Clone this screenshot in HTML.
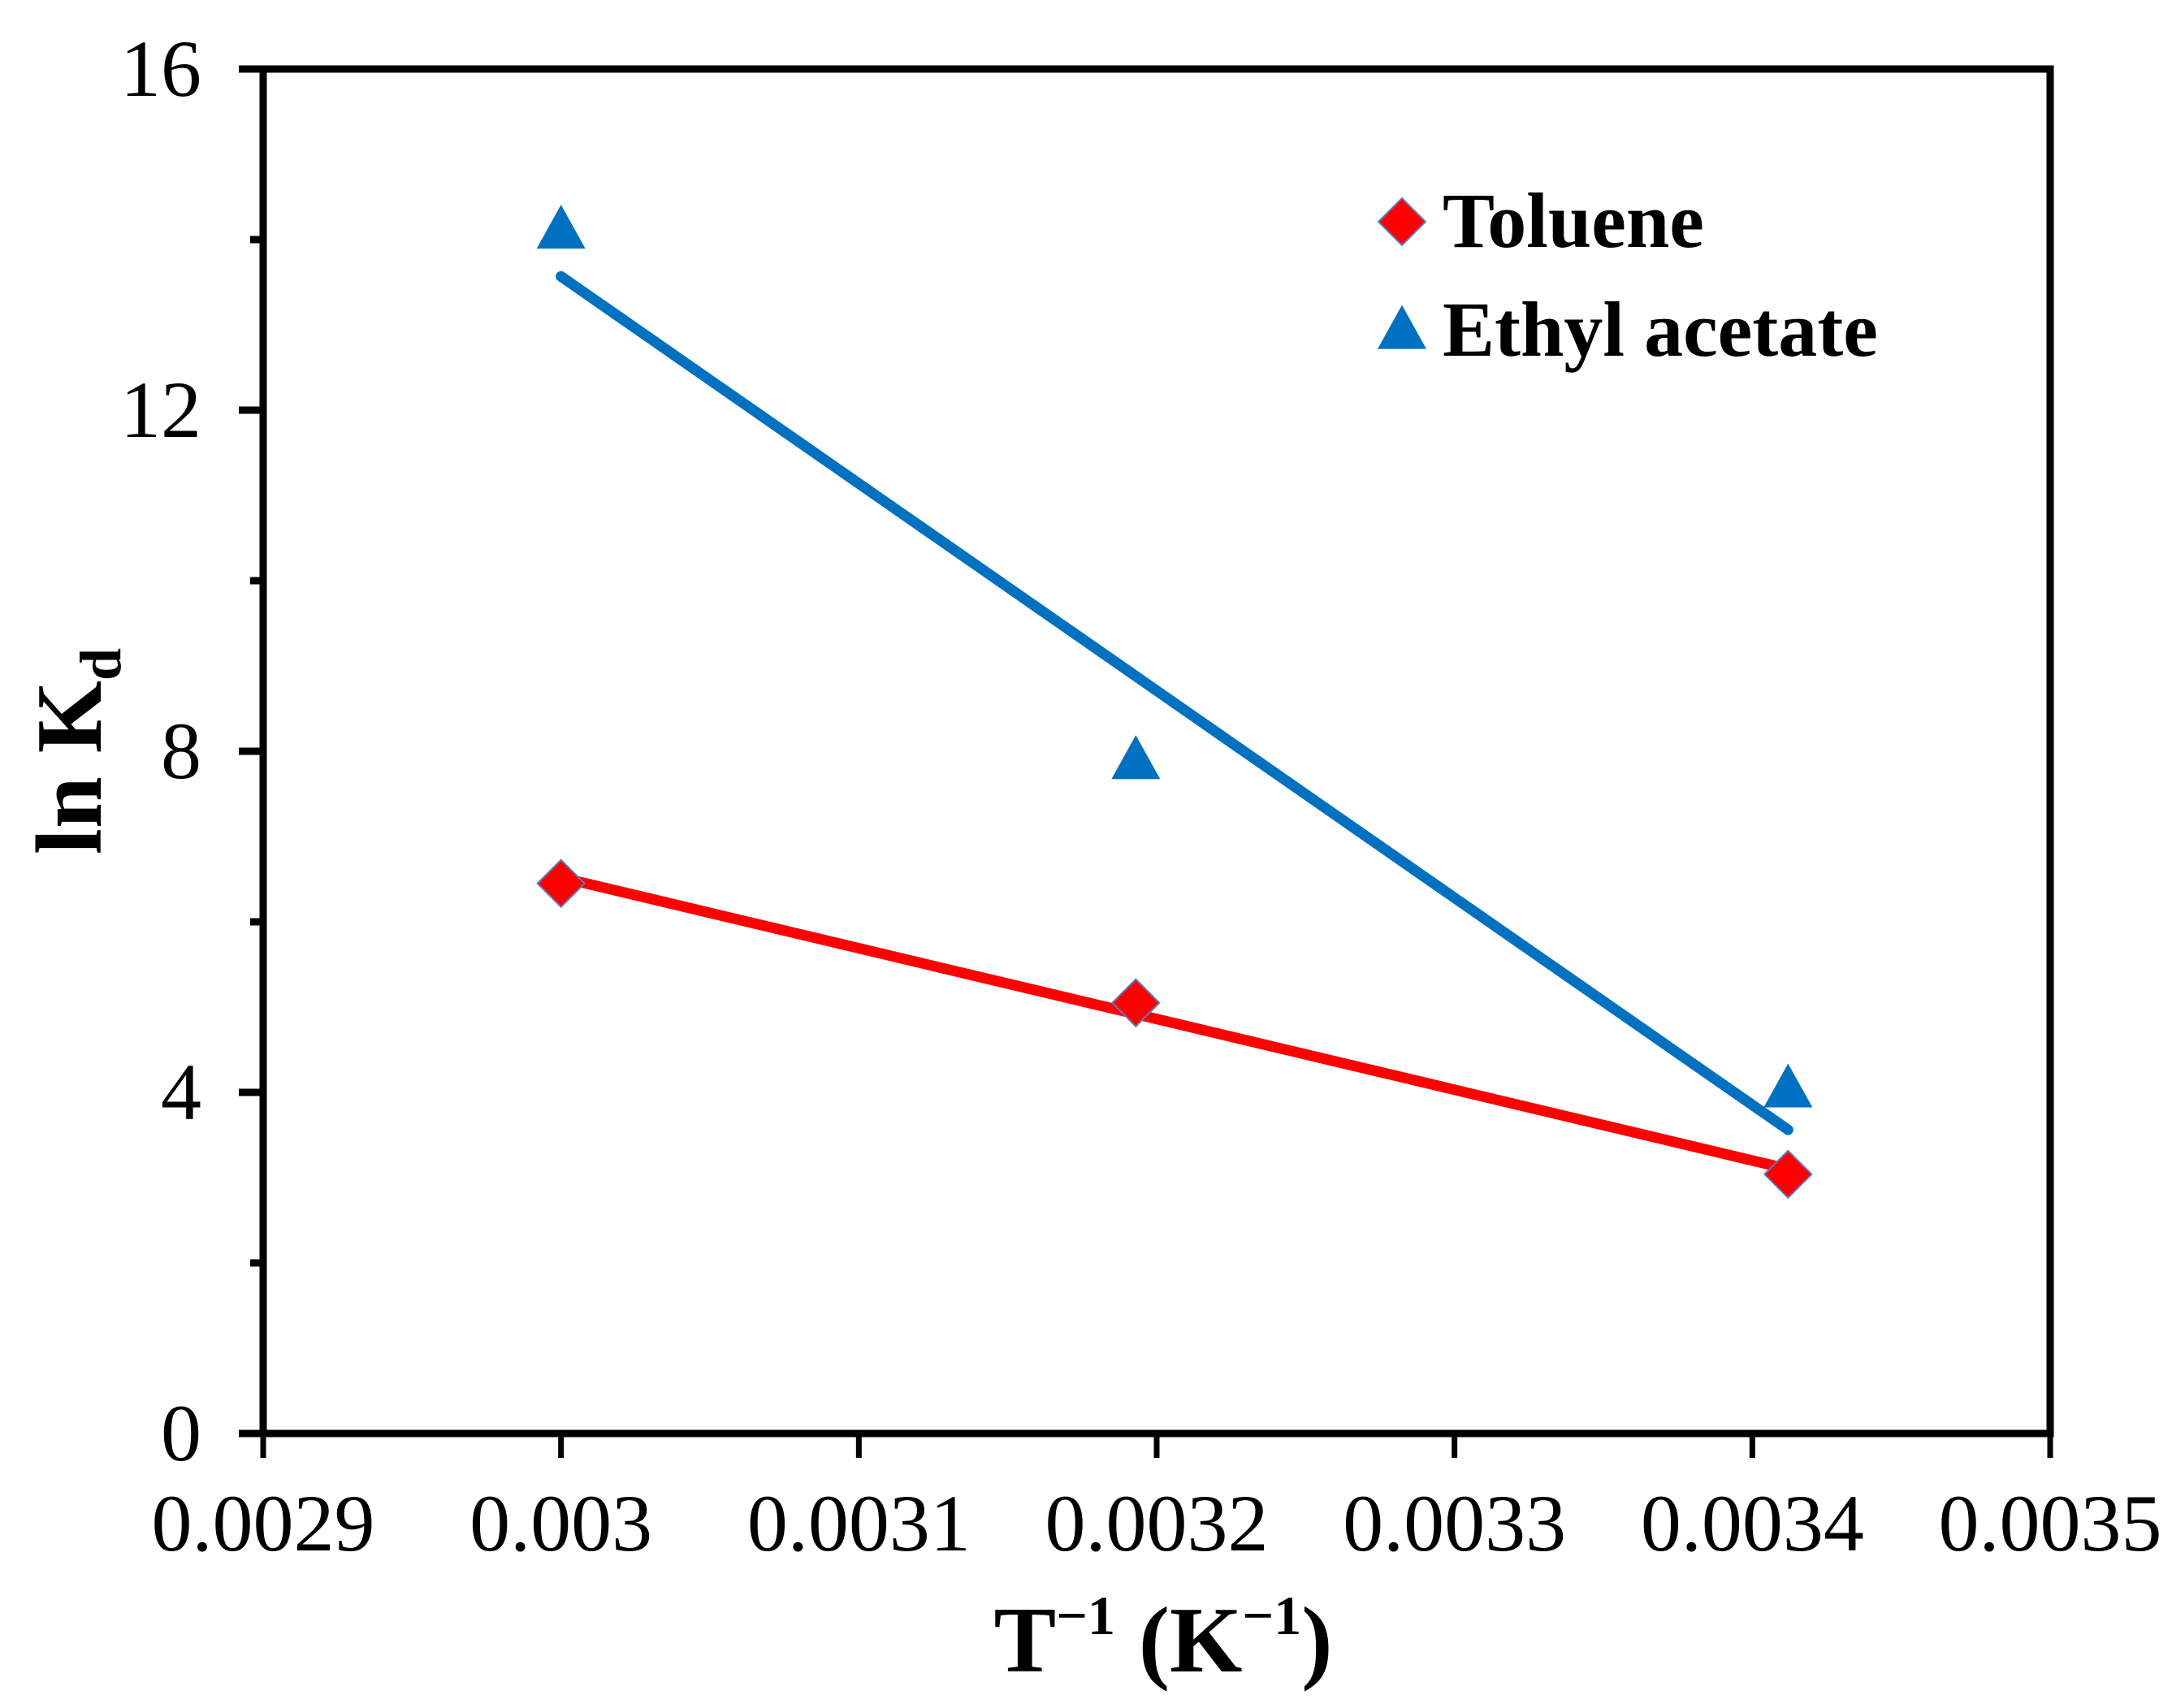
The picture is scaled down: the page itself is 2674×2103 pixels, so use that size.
<!DOCTYPE html>
<html><head><meta charset="utf-8"><style>
html,body{margin:0;padding:0;background:#fff;}
svg{display:block;font-family:"Liberation Serif",serif;}
</style></head><body>
<svg id="chart" width="2674" height="2103" viewBox="0 0 2674 2103" xmlns="http://www.w3.org/2000/svg">
</svg>
<script>
const xTicks=[0.0029,0.003,0.0031,0.0032,0.0033,0.0034,0.0035];
const xTickLabels=["0.0029","0.003","0.0031","0.0032","0.0033","0.0034","0.0035"];
const yTicks=[0,4,8,12,16];
const yMinor=[2,6,10,14];
const seriesX=[0.003,0.003193,0.003412];
const tolueneY=[6.45,5.05,3.04];
const ethylY=[14.1,7.88,4.03];

const L=324,R=2524,T=85,B=1765;
const xMin=0.0029,xMax=0.0035,yMin=0,yMax=16;
const sx=v=>L+(v-xMin)/(xMax-xMin)*(R-L);
const sy=v=>B-(v-yMin)/(yMax-yMin)*(B-T);
const svg=document.getElementById('chart');
const NS='http://www.w3.org/2000/svg';
function mk(tag,attrs,parent){const e=document.createElementNS(NS,tag);for(const k in attrs)e.setAttribute(k,attrs[k]);(parent||svg).appendChild(e);return e;}

let f=mk('rect',{x:L,y:T,width:R-L,height:B-T,fill:'none',stroke:'#000','stroke-width':9});



xTicks.forEach((v,i)=>{
  let t=mk('line',{x1:sx(v),x2:sx(v),y1:B,y2:B+30,stroke:'#000','stroke-width':7});
  
  
  let lb=mk('text',{x:sx(v),y:B+144,'font-size':100,'text-anchor':'middle',fill:'#000'});
  lb.textContent=xTickLabels[i];
  
  
});
yTicks.forEach(v=>{
  let t=mk('line',{x1:L-30,x2:L,y1:sy(v),y2:sy(v),stroke:'#000','stroke-width':9});
  
  
  let lb=mk('text',{x:L-76,y:sy(v)+33,'font-size':100,'text-anchor':'end',fill:'#000'});
  lb.textContent=String(v);
  
  
});
yMinor.forEach(v=>{
  let t=mk('line',{x1:L-16,x2:L,y1:sy(v),y2:sy(v),stroke:'#000','stroke-width':9});
  
  
});

function fit(xs,ys){const n=xs.length;const mx=xs.reduce((a,b)=>a+b)/n,my=ys.reduce((a,b)=>a+b)/n;let sxy=0,sxx=0;for(let i=0;i<n;i++){sxy+=(xs[i]-mx)*(ys[i]-my);sxx+=(xs[i]-mx)**2;}const m=sxy/sxx;return x=>my+m*(x-mx);}
function trend(ys,color,name){
  const g=fit(seriesX,ys);const x0=seriesX[0],x1=seriesX[seriesX.length-1];
  let l=mk('line',{x1:sx(x0),y1:sy(g(x0)),x2:sx(x1),y2:sy(g(x1)),stroke:color,'stroke-width':13,'stroke-linecap':'round'});
  
  
}
trend(ethylY,'#0070C0','ethyl-acetate-trendline');
trend(tolueneY,'#FF0000','toluene-trendline');

function diamond(cx,cy,r){return `${cx},${cy-r} ${cx+r},${cy} ${cx},${cy+r} ${cx-r},${cy}`;}
function tri(cx,cy,w,h){return `${cx},${cy-h*0.6} ${cx+w/2},${cy+h*0.4} ${cx-w/2},${cy+h*0.4}`;}
seriesX.forEach((x,i)=>{
  let d=mk('polygon',{points:diamond(sx(x),sy(tolueneY[i]),29),fill:'#FF0000',stroke:'#5b7bbf','stroke-width':2});
  
  
  let t=mk('polygon',{points:tri(sx(x),sy(ethylY[i]),60,54),fill:'#0070C0'});
  
  
});

let ld=mk('polygon',{points:diamond(1726,273,29),fill:'#FF0000',stroke:'#5b7bbf','stroke-width':2});


let lt1=mk('text',{x:1776,y:304,'font-size':96,'font-weight':'bold',fill:'#000'});
lt1.textContent='Toluene';


let lt=mk('polygon',{points:tri(1726,408,60,54),fill:'#0070C0'});


let lt2=mk('text',{x:1776,y:438,'font-size':96,'font-weight':'bold',fill:'#000'});
lt2.textContent='Ethyl acetate';



let xt=mk('text',{x:1432,y:2058,'font-size':115,'font-weight':'bold','text-anchor':'middle',fill:'#000'});
xt.innerHTML='T<tspan font-size="68" dy="-46">−1</tspan><tspan dy="46"> (K</tspan><tspan font-size="68" dy="-46">−1</tspan><tspan dy="46">)</tspan>';


let yt=mk('text',{x:0,y:0,'font-size':115,'font-weight':'bold','text-anchor':'middle',fill:'#000',transform:'translate(124,925) rotate(-90)'});
yt.innerHTML='ln K<tspan font-size="72" dy="24">d</tspan>';


</script>
</body></html>
